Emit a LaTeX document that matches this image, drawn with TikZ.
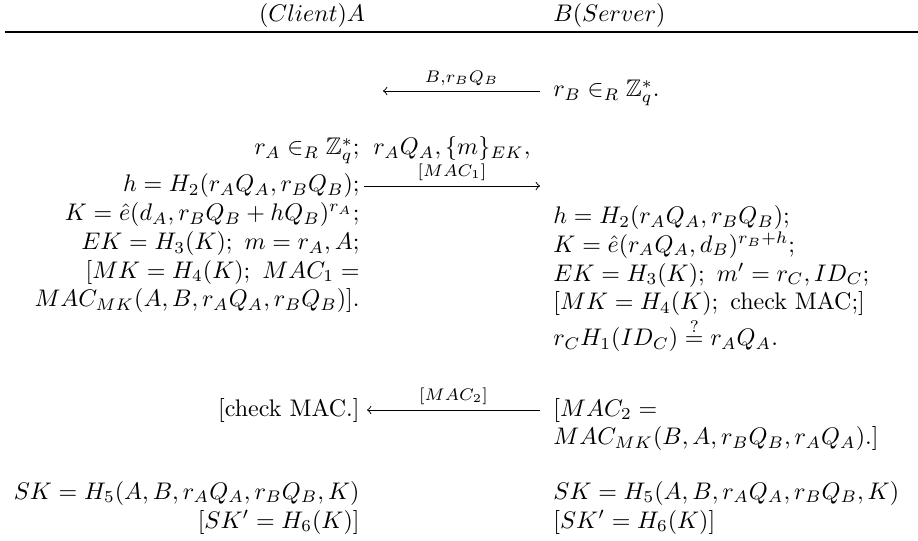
\documentclass[tikz,border=0pt]{standalone}
\usepackage{amsmath,amssymb}
\usetikzlibrary{arrows,positioning}

\begin{document}
\begin{tikzpicture}[x=0.4167pt,y=-0.4167pt]

\tikzset{lcol/.style = {align=right, anchor=base east, inner sep=0pt}}
\tikzset{rcol/.style = {align=left, anchor=base west, inner sep=0pt}}
\tikzset{lab/.style = {inner sep=0pt, above=2pt}}
\tikzset{edge1/.style = {->, line width=0.4pt, > = to}}
\useasboundingbox (0,0) rectangle (918,541);

% header
\node[inner sep=0pt, anchor=base] (cl) at (312,22) {$(Client)A$};
\node[rcol] (sv) at (553,22) {$B(Server)$};
\coordinate (rl) at (5,32);
\coordinate (rr) at (918,32);
\draw[line width=0.5pt] (rl) -- (rr);

% first message
\node[rcol] (rb) at (553,97) {$r_B \in_R \mathbb{Z}_q^*.$};
\coordinate (m1s) at (540,91);
\coordinate (m1e) at (383,91);
\draw[edge1] (m1s) -- node[lab] {$\scriptstyle B,r_BQ_B$} (m1e);

% client side
\node[lcol] (ra) at (360,155) {$r_A \in_R \mathbb{Z}_q^*;$};
\node[lcol] (ca) at (360,307) {$h = H_2(r_AQ_A, r_BQ_B);$\\
  $K = \hat{e}(d_A, r_BQ_B + hQ_B)^{r_A};$\\
  $EK = H_3(K);\ m = r_A, A;$\\
  $[MK = H_4(K);\ MAC_1 =$\\
  $MAC_{MK}(A, B, r_AQ_A, r_BQ_B)].$};
\node[rcol] (m2t) at (373,155) {$r_AQ_A, \{m\}_{EK},$};
\coordinate (m2s) at (364,186);
\coordinate (m2e) at (540,186);
\draw[edge1] (m2s) -- node[lab] {$\scriptstyle [MAC_1]$} (m2e);

% server side
\node[rcol] (sb) at (553,346) {$h = H_2(r_AQ_A, r_BQ_B);$\\
  $K = \hat{e}(r_AQ_A, d_B)^{r_B+h};$\\
  $EK = H_3(K);\ m' = r_C, ID_C;$\\
  $[MK = H_4(K);\ \text{check MAC;}]$\\
  $r_CH_1(ID_C) \stackrel{?}{=} r_AQ_A.$};

% second message
\node[lcol] (ck) at (360,416) {[check MAC.]};
\node[rcol] (mac) at (553,445) {$[MAC_2 =$\\
  $MAC_{MK}(B, A, r_BQ_B, r_AQ_A).]$};
\coordinate (m3s) at (540,410);
\coordinate (m3e) at (367,410);
\draw[edge1] (m3s) -- node[lab] {$\scriptstyle [MAC_2]$} (m3e);

% session keys
\node[lcol] (ska) at (360,528) {$SK = H_5(A, B, r_AQ_A, r_BQ_B, K)$\\
  $[SK' = H_6(K)]$};
\node[rcol] (skb) at (553,528) {$SK = H_5(A, B, r_AQ_A, r_BQ_B, K)$\\
  $[SK' = H_6(K)]$};

\end{tikzpicture}
\end{document}
